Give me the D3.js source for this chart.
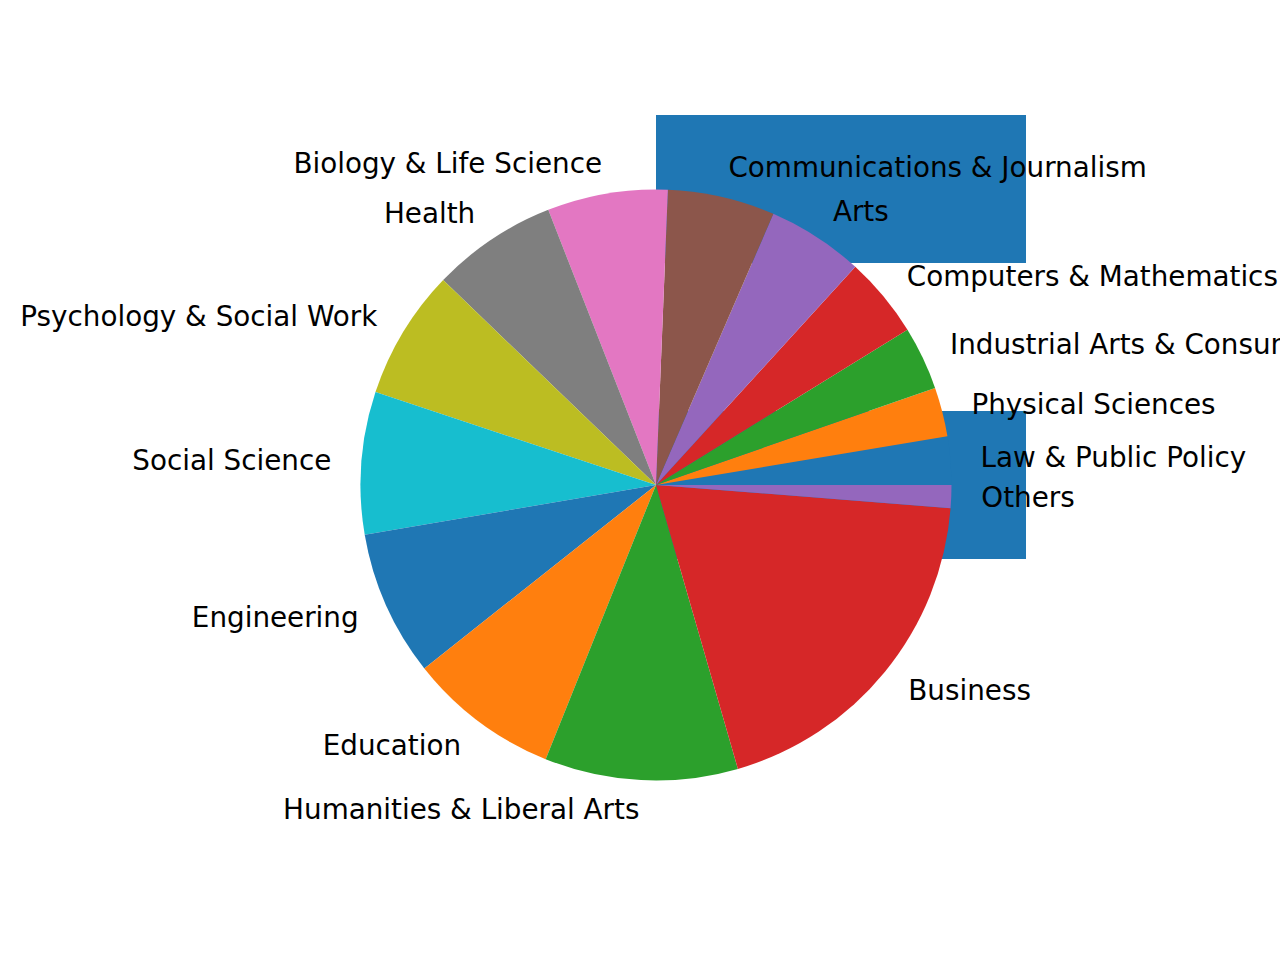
<!DOCTYPE html>
<html>
<head>
<meta charset="utf-8">
<script src="https://cdn.jsdelivr.net/npm/d3@7"></script>
<style>
html,body{margin:0;padding:0;background:#fff;}
svg{display:block;}
text{font-family:"DejaVu Sans",sans-serif;}
</style>
</head>
<body>
<svg id="chart" width="1280" height="960"></svg>
<script>
// Categories, counter-clockwise from 3 o'clock
const categories = [
  "Law & Public Policy",
  "Physical Sciences",
  "Industrial Arts & Consumer Services",
  "Computers & Mathematics",
  "Arts",
  "Communications & Journalism",
  "Biology & Life Science",
  "Health",
  "Psychology & Social Work",
  "Social Science",
  "Engineering",
  "Education",
  "Humanities & Liberal Arts",
  "Business",
  "Others"
];
const shares = [2.64, 2.69, 3.47, 4.42, 5.28, 5.86, 6.58, 6.86, 7.11, 7.78, 7.97, 8.25, 10.56, 19.28, 1.25];
const colors = ["#1f77b4","#ff7f0e","#2ca02c","#d62728","#9467bd","#8c564b","#e377c2","#7f7f7f","#bcbd22","#17becf"];

// Background bars (in pie data units)
const barY = [0, 1];
const barWidth = [1.25, 1.25];
const barHeight = 0.5;

const svg = d3.select("#chart");
const cx = 656, cy = 485, R = 296;

const xs = d3.scaleLinear().domain([0, 1]).range([cx, cx + R]);
const ys = d3.scaleLinear().domain([0, 1]).range([cy, cy - R]);

svg.append("g").selectAll("rect")
  .data(barY.map((y, i) => ({y, w: barWidth[i]})))
  .join("rect")
  .attr("x", xs(0))
  .attr("y", d => ys(d.y + barHeight / 2))
  .attr("width", d => xs(d.w) - xs(0))
  .attr("height", d => ys(d.y - barHeight / 2) - ys(d.y + barHeight / 2))
  .attr("fill", "#1f77b4");

const pie = d3.pie().sort(null).value(d => d)
  .startAngle(Math.PI / 2).endAngle(Math.PI / 2 - 2 * Math.PI);
const arcs = pie(shares);
const arc = d3.arc().innerRadius(0).outerRadius(xs(1) - xs(0) - 0.5);

const g = svg.append("g").attr("transform", `translate(${cx},${cy})`);
g.selectAll("path").data(arcs).join("path")
  .attr("d", arc)
  .attr("fill", (d, i) => colors[i % colors.length]);

const lr = (xs(1) - xs(0)) * 1.1;
g.selectAll("text").data(arcs).join("text")
  .each(function(d, i) {
    const a = (d.startAngle + d.endAngle) / 2;
    const x = lr * Math.sin(a), y = -lr * Math.cos(a);
    d3.select(this)
      .attr("x", x).attr("y", y).attr("dy", "0.33em")
      .attr("text-anchor", x >= 0 ? "start" : "end")
      .attr("font-size", "27.8px")
      .attr("fill", "#000")
      .text(categories[i]);
  });
</script>
</body>
</html>
